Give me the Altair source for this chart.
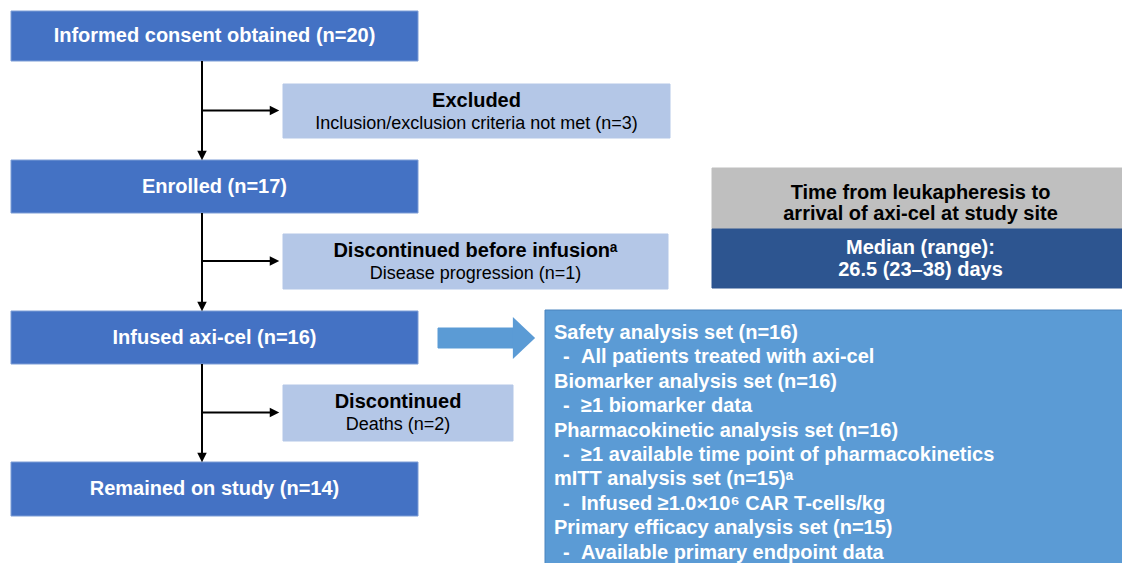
import altair as alt
import pandas as pd

# ---------------- page geometry (chart units == pixels of the 1130x575 picture)
W, H = 1114, 555
X0, Y0 = 8, 8
FONT = "Liberation Sans"

# ---------------- data
main_labels = ["Informed consent obtained (n=20)", "Enrolled (n=17)",
               "Infused axi-cel (n=16)", "Remained on study (n=14)"]
main_top = [11, 160, 311, 462]
main_bottom = [61, 213, 364, 516]
main_left, main_right = 11, 418

side_titles = ["Excluded", "Discontinued before infusionᵃ", "Discontinued"]
side_subs = ["Inclusion/exclusion criteria not met (n=3)",
             "Disease progression (n=1)", "Deaths (n=2)"]
side_top = [84, 234, 385]
side_bottom = [138, 289, 441]
side_left = 283
side_right = [670, 668, 513]

time_title = ["Time from leukapheresis to", "arrival of axi-cel at study site"]
time_value = ["Median (range):", "26.5 (23–38) days"]

set_names = ["Safety analysis set (n=16)", "Biomarker analysis set (n=16)",
             "Pharmacokinetic analysis set (n=16)", "mITT analysis set (n=15)ᵃ",
             "Primary efficacy analysis set (n=15)"]
set_criteria = ["All patients treated with axi-cel", "≥1 biomarker data",
                "≥1 available time point of pharmacokinetics",
                "Infused ≥1.0×10⁶ CAR T-cells/kg",
                "Available primary endpoint data"]

C_MAIN = "#4472C4"
C_SIDE = "#B4C7E7"
C_GRAY = "#BFBFBF"
C_DARK = "#2D5590"
C_SET = "#5B9BD5"

# ---------------- tables
rects = []
for t, b in zip(main_top, main_bottom):
    rects.append(dict(x=main_left, x2=main_right, y=t, y2=b, fill=C_MAIN, stroke="#7D9DD6"))
for t, b, r in zip(side_top, side_bottom, side_right):
    rects.append(dict(x=side_left, x2=r, y=t, y2=b, fill=C_SIDE, stroke=C_SIDE))
rects.append(dict(x=712, x2=1129, y=168, y2=229, fill=C_GRAY, stroke=C_GRAY))
rects.append(dict(x=712, x2=1129, y=229, y2=288, fill=C_DARK, stroke=C_DARK))
rects.append(dict(x=545, x2=1135, y=310, y2=580, fill=C_SET, stroke="#4A84BE"))
rects.append(dict(x=438, x2=514, y=328, y2=348, fill=C_SET, stroke=C_SET))
rect_df = pd.DataFrame(rects)

xs = alt.Scale(domain=[X0, X0 + W], nice=False, zero=False)
ys = alt.Scale(domain=[Y0, Y0 + H], nice=False, zero=False, reverse=True)
X = lambda f: alt.X(f, scale=xs, axis=None)
Y = lambda f: alt.Y(f, scale=ys, axis=None)

rect_layer = alt.Chart(rect_df).mark_rect(strokeWidth=1).encode(
    x=X("x:Q"), x2="x2:Q", y=Y("y:Q"), y2="y2:Q",
    fill=alt.Fill("fill:N", scale=None), stroke=alt.Stroke("stroke:N", scale=None))

# connectors
vx = 202
lines = []
for i in range(3):
    lines.append(dict(x=vx, x2=vx, y=main_bottom[i], y2=main_top[i + 1] - 6))
for i in range(3):
    yy = (side_top[i] + side_bottom[i]) / 2 - 0.5
    lines.append(dict(x=vx, x2=side_left - 8, y=yy, y2=yy))
line_df = pd.DataFrame(lines)
line_layer = alt.Chart(line_df).mark_rule(color="black", strokeWidth=2).encode(
    x=X("x:Q"), x2="x2:Q", y=Y("y:Q"), y2="y2:Q")

down_df = pd.DataFrame(dict(x=[vx] * 3, y=[t - 4.5 for t in main_top[1:]]))
down_layer = alt.Chart(down_df).mark_point(
    shape="M-1,-1L1,-1L0,1Z", filled=True, color="black", opacity=1, size=90, strokeWidth=0
).encode(x=X("x:Q"), y=Y("y:Q"))

right_df = pd.DataFrame(dict(x=[side_left - 8.5] * 3,
                             y=[(t + b) / 2 - 0.5 for t, b in zip(side_top, side_bottom)]))
right_layer = alt.Chart(right_df).mark_point(
    shape="M-1,-1L1,0L-1,1Z", filled=True, color="black", opacity=1, size=90, strokeWidth=0
).encode(x=X("x:Q"), y=Y("y:Q"))

head_df = pd.DataFrame(dict(x=[524], y=[338]))
head_layer = alt.Chart(head_df).mark_point(
    shape="M-0.53,-1L0.53,0L-0.53,1Z", filled=True, color=C_SET, opacity=1, size=1764, strokeWidth=0
).encode(x=X("x:Q"), y=Y("y:Q"))

# texts
main_txt = pd.DataFrame(dict(
    x=[(main_left + main_right) / 2] * 4,
    y=[(t + b) / 2 for t, b in zip(main_top, main_bottom)],
    t=main_labels))
main_txt_layer = alt.Chart(main_txt).mark_text(
    font=FONT, fontSize=20, fontWeight="bold", color="white", align="center", baseline="middle"
).encode(x=X("x:Q"), y=Y("y:Q"), text="t:N")

side_title_df = pd.DataFrame(dict(
    x=[(side_left + r) / 2 for r in side_right],
    y=[t + 17 for t in side_top], t=side_titles))
side_title_layer = alt.Chart(side_title_df).mark_text(
    font=FONT, fontSize=20, fontWeight="bold", color="black", align="center", baseline="middle"
).encode(x=X("x:Q"), y=Y("y:Q"), text="t:N")

side_sub_df = pd.DataFrame(dict(
    x=[(side_left + r) / 2 for r in side_right],
    y=[t + 40 for t in side_top], t=side_subs))
side_sub_layer = alt.Chart(side_sub_df).mark_text(
    font=FONT, fontSize=18, color="black", align="center", baseline="middle"
).encode(x=X("x:Q"), y=Y("y:Q"), text="t:N")

time_title_df = pd.DataFrame(dict(x=[920.5] * 2, y=[193, 214], t=time_title))
time_title_layer = alt.Chart(time_title_df).mark_text(
    font=FONT, fontSize=20, fontWeight="bold", color="black", align="center", baseline="middle"
).encode(x=X("x:Q"), y=Y("y:Q"), text="t:N")

time_value_df = pd.DataFrame(dict(x=[920.5] * 2, y=[248, 270], t=time_value))
time_value_layer = alt.Chart(time_value_df).mark_text(
    font=FONT, fontSize=20, fontWeight="bold", color="white", align="center", baseline="middle"
).encode(x=X("x:Q"), y=Y("y:Q"), text="t:N")

rows = []
for i, (n, c) in enumerate(zip(set_names, set_criteria)):
    rows.append(dict(x=554, y=333 + (2 * i) * 24.4, t=n))
    rows.append(dict(x=563, y=333 + (2 * i + 1) * 24.4, t="-"))
    rows.append(dict(x=581, y=333 + (2 * i + 1) * 24.4, t=c))
set_df = pd.DataFrame(rows)
set_layer = alt.Chart(set_df).mark_text(
    font=FONT, fontSize=20, fontWeight="bold", color="white", align="left", baseline="middle"
).encode(x=X("x:Q"), y=Y("y:Q"), text="t:N")

chart = alt.layer(
    rect_layer, line_layer, down_layer, right_layer, head_layer,
    main_txt_layer, side_title_layer, side_sub_layer,
    time_title_layer, time_value_layer, set_layer
).properties(
    width=W, height=H, padding=0, autosize="none"
).configure_view(stroke=None)

chart.save("out.html", embed_options={"renderer": "svg", "actions": False})
